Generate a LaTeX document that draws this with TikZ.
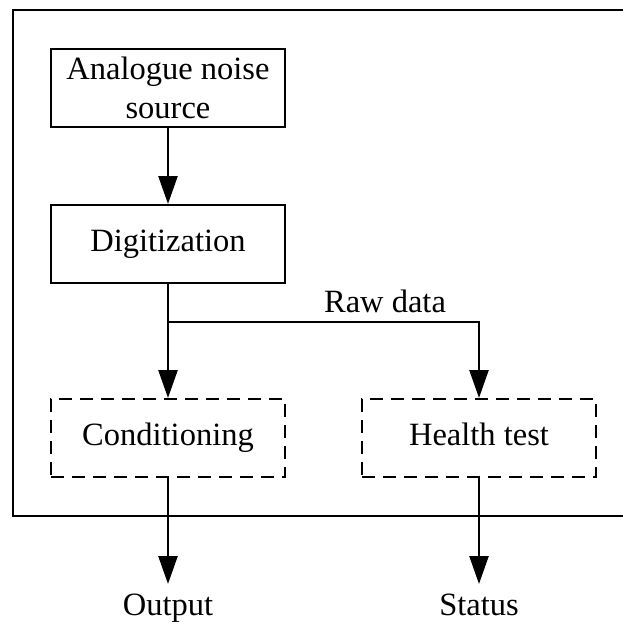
\documentclass[tikz,border=0pt]{standalone}
\usepackage{fontspec}
\setmainfont{Liberation Serif}
\usetikzlibrary{arrows.meta}
\begin{document}
\begin{tikzpicture}[x=1pt,y=-1pt,
  font=\fontsize{32.5}{39}\selectfont,
  line width=2.5pt,
  blockbox/.style={draw, line width=2pt, minimum width=234pt, minimum height=78pt, inner sep=0pt, align=center},
  dashbox/.style={blockbox, dash pattern=on 13pt off 8pt},
  oneline/.style={text height=22pt, text depth=7pt},
  arr/.style={-{Triangle[length=28pt,width=19pt]}},
  label/.style={inner sep=0pt}
]
\useasboundingbox (0,0) rectangle (622,630);
\fill[white] (0,0) rectangle (622,630);
\draw[line width=2.5pt] (13,10) rectangle (640,516);

\node[blockbox] (src) at (168,88) {Analogue noise\\source};
\node[blockbox, oneline] (dig) at (168,244) {Digitization};
\node[dashbox, oneline] (cond) at (168,438) {Conditioning};
\node[dashbox, oneline] (health) at (479,438) {Health test};
\coordinate (split) at (168,322);
\node[label, anchor=base] (raw) at (385,312) {Raw data};
\node[label, anchor=north, inner ysep=8pt, oneline] (out) at (168,584) {Output};
\node[label, anchor=north, inner ysep=8pt, oneline] (stat) at (479,584) {Status};

\draw[arr] (src) -- (dig);
\draw[arr] (dig) -- (cond);
\draw[arr] (split) -| (health);
\draw[arr] (cond) -- (out);
\draw[arr] (health) -- (stat);
\end{tikzpicture}
\end{document}
